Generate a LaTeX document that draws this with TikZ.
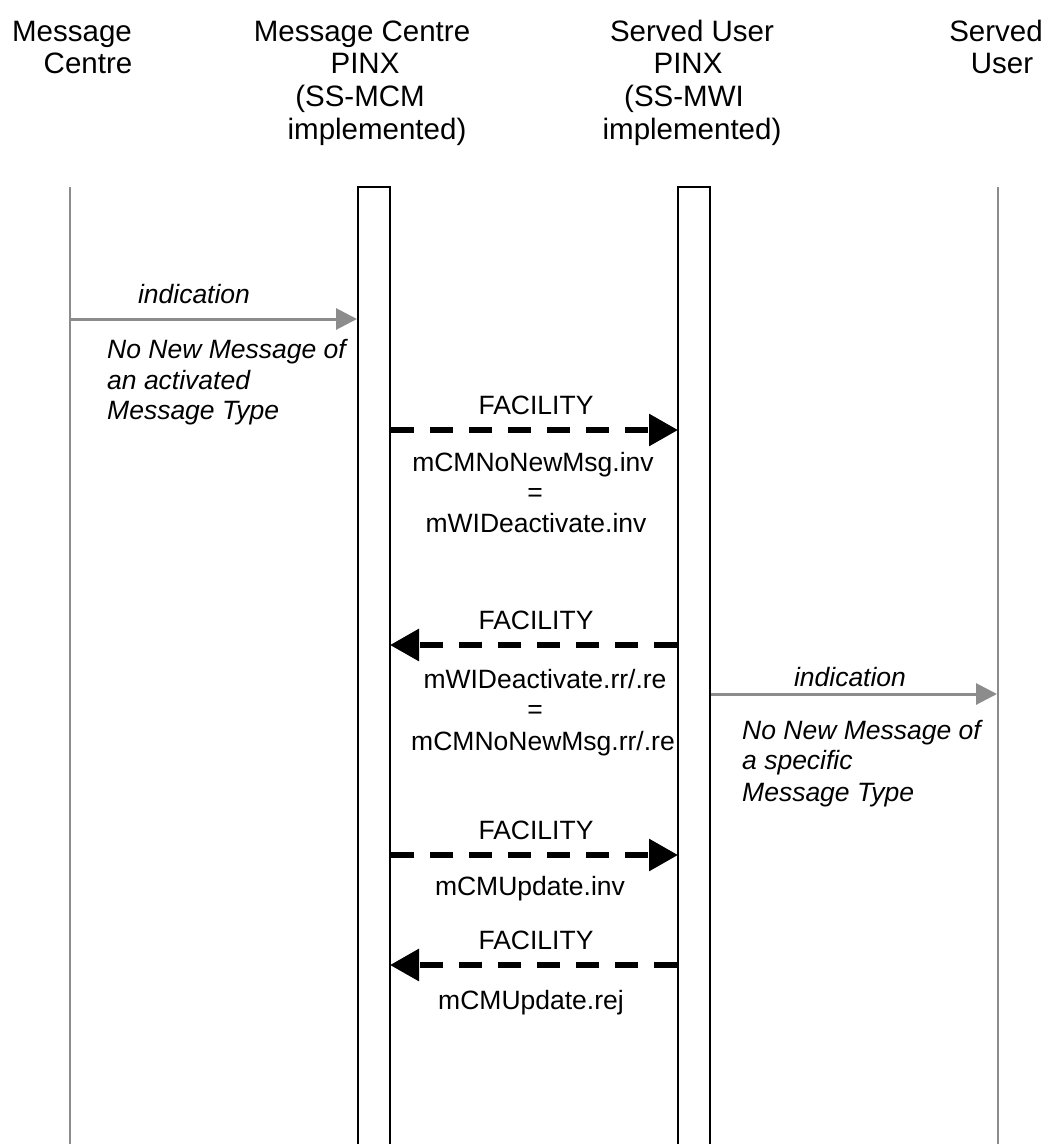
\documentclass[tikz,border=0pt]{standalone}
\usepackage{fontspec}
\setmainfont{Liberation Sans}
\usetikzlibrary{arrows.meta}
\definecolor{lifegray}{HTML}{8C8C8C}
\tikzset{
  lbl/.style={inner sep=0pt, anchor=base, font=\fontsize{26.5}{31}\selectfont},
  ilbl/.style={inner sep=0pt, anchor=base west, font=\fontsize{26.5}{31}\selectfont\itshape},
  hdr/.style={inner sep=0pt, anchor=base, font=\fontsize{29.5}{33}\selectfont},
  lifeline/.style={draw=lifegray, line width=2pt},
  barline/.style={draw=black, line width=2.2pt},
  ind/.style={draw=lifegray, line width=3pt, -{Triangle[length=21pt,width=21pt]}},
  fac/.style={draw=black, line width=6pt, dash pattern=on 23pt off 16pt, -{Triangle[length=29pt,width=31pt]}, shorten >=-1pt},
}
\begin{document}
\begin{tikzpicture}[x=1pt,y=-1pt]
\useasboundingbox (0,0) rectangle (1055,1144);
% lifelines and bars
\coordinate (mcT) at (70,187);   \coordinate (mcB) at (70,1144);
\coordinate (suT) at (998,187);  \coordinate (suB) at (998,1144);
\draw[lifeline] (mcT) -- (mcB);
\draw[lifeline] (suT) -- (suB);
\draw[barline] (358,1144) -- (358,187) -- (390,187) -- (390,1144);
\draw[barline] (678,1144) -- (678,187) -- (710,187) -- (710,1144);
% headers
\node[hdr] (h1a) at (72,41) {Message};
\node[hdr] (h1b) at (88,73) {Centre};
\node[hdr] (h2a) at (362,41) {Message Centre};
\node[hdr] (h2b) at (365,73) {PINX};
\node[hdr] (h2c) at (360,106) {(SS-MCM};
\node[hdr] (h2d) at (377,139) {implemented)};
\node[hdr] (h3a) at (692,41) {Served User};
\node[hdr] (h3b) at (688,73) {PINX};
\node[hdr] (h3c) at (684,106) {(SS-MWI};
\node[hdr] (h3d) at (692,139) {implemented)};
\node[hdr] (h4a) at (996,41) {Served};
\node[hdr] (h4b) at (1002,73) {User};
% arrow endpoints
\coordinate (a1s) at (70,319);  \coordinate (a1e) at (357,319);
\coordinate (f1s) at (391,430); \coordinate (f1e) at (677,430);
\coordinate (f2s) at (677,645); \coordinate (f2e) at (391,645);
\coordinate (a2s) at (711,694); \coordinate (a2e) at (997,694);
\coordinate (f3s) at (391,855); \coordinate (f3e) at (677,855);
\coordinate (f4s) at (677,965); \coordinate (f4e) at (391,965);
\draw[ind] (a1s) -- (a1e);
\draw[ind] (a2s) -- (a2e);
\draw[fac] (f1s) -- (f1e);
\draw[fac] (f2s) -- (f2e);
\draw[fac] (f3s) -- (f3e);
\draw[fac] (f4s) -- (f4e);
% labels arrow 1
\node[lbl, font=\fontsize{26.5}{31}\selectfont\itshape] (i1) at (194,303) {indication};
\node[ilbl] (i1a) at (107,358) {No New Message of};
\node[ilbl] (i1b) at (107,389) {an activated};
\node[ilbl] (i1c) at (107,419) {Message Type};
% facility 1
\node[lbl] (f1t) at (536,414) {FACILITY};
\node[lbl] (f1a) at (533,471) {mCMNoNewMsg.inv};
\node[lbl] (f1b) at (535,501) {=};
\node[lbl] (f1c) at (536,532) {mWIDeactivate.inv};
% facility 2
\node[lbl] (f2t) at (536,629) {FACILITY};
\node[lbl] (f2a) at (545,688) {mWIDeactivate.rr/.re};
\node[lbl] (f2b) at (535,718) {=};
\node[lbl] (f2c) at (543,750) {mCMNoNewMsg.rr/.re};
% indication 2
\node[lbl, font=\fontsize{26.5}{31}\selectfont\itshape] (i2) at (850,686) {indication};
\node[ilbl] (i2a) at (742,739) {No New Message of};
\node[ilbl] (i2b) at (742,769) {a specific};
\node[ilbl] (i2c) at (742,801) {Message Type};
% facility 3
\node[lbl] (f3t) at (536,839) {FACILITY};
\node[lbl] (f3a) at (530,895) {mCMUpdate.inv};
% facility 4
\node[lbl] (f4t) at (536,949) {FACILITY};
\node[lbl] (f4a) at (531,1009) {mCMUpdate.rej};
\end{tikzpicture}
\end{document}
